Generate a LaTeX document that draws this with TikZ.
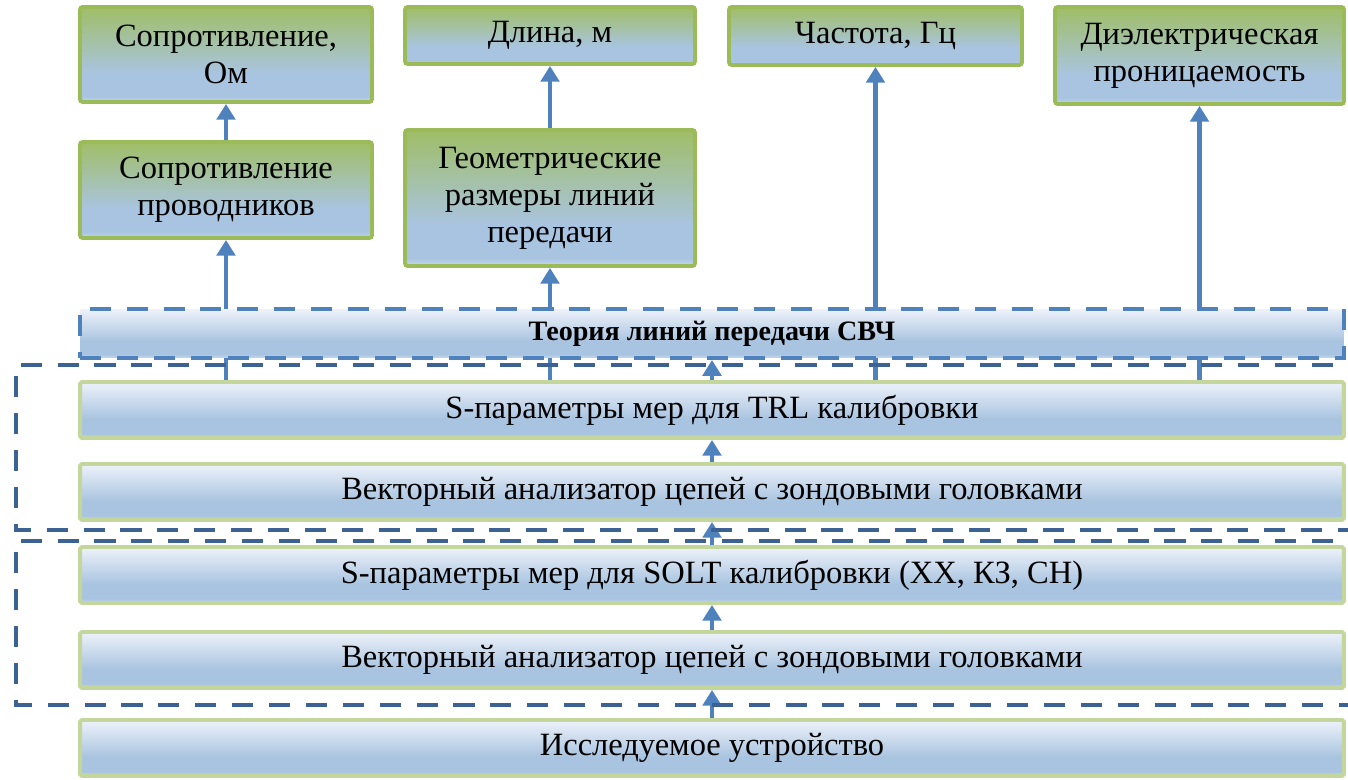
\documentclass[tikz,border=0pt]{standalone}
\usepackage{fontspec}
\setmainfont{Liberation Serif}
\usetikzlibrary{arrows.meta,positioning}

\definecolor{boxgreen}{HTML}{9BBB59}
\definecolor{boxgreenfill}{HTML}{A0BE66}
\definecolor{boxblue}{HTML}{A9C4E0}
\definecolor{boxpale}{HTML}{EEF2FA}
\definecolor{boxlight}{HTML}{C3D69B}
\definecolor{edgeblue}{HTML}{C4D7EE}
\definecolor{arrowblue}{HTML}{4F81BD}
\definecolor{groupblue}{HTML}{3C6294}

\pgfdeclareverticalshading{greenblue}{100bp}{color(0bp)=(edgeblue); color(25bp)=(edgeblue); color(28bp)=(boxblue); color(40bp)=(boxblue); color(75bp)=(boxgreenfill); color(100bp)=(boxgreenfill)}
\pgfdeclareverticalshading{paleblue}{100bp}{color(0bp)=(edgeblue); color(25bp)=(edgeblue); color(29bp)=(boxblue); color(42bp)=(boxblue); color(75bp)=(boxpale); color(100bp)=(boxpale)}

\tikzset{
  param/.style={draw=boxgreen, line width=2.2pt, shading=greenblue, rounded corners=1.5pt,
    align=center, inner sep=1pt, font=\fontsize{18.5}{21}\selectfont},
  stage/.style={draw=boxlight, line width=2.2pt, shading=paleblue, rounded corners=1pt,
    minimum width=25.28cm, minimum height=1.12cm, inner sep=0pt, font=\fontsize{18.5}{21}\selectfont},
  theory/.style={draw=arrowblue, line width=2.3pt, dash pattern=on 12pt off 9pt, shading=paleblue,
    minimum width=25.28cm, minimum height=0.98cm, inner sep=0pt, font=\bfseries\fontsize{16}{19}\selectfont},
  up/.style={draw=arrowblue, line width=2.6pt, -{Triangle[width=10.5pt,length=9pt]}},
  group/.style={draw=groupblue, line width=2.3pt, dash pattern=on 12pt off 9pt},
}

\begin{document}
\begin{tikzpicture}[x=0.02cm, y=-0.02cm]
  \useasboundingbox (0,0) rectangle (1348,780);

  % measured quantities
  \node[param, minimum width=5.84cm, minimum height=1.9cm] (res-om) at (226,54.5) {Сопротивление,\\Ом}; %
  \node[param, minimum width=5.8cm, minimum height=1.14cm] (len) at (550,35.5) {Длина, м}; %
  \node[param, minimum width=5.86cm, minimum height=1.16cm] (freq) at (875.5,36) {Частота, Гц}; %
  \node[param, minimum width=5.78cm, minimum height=1.94cm] (eps) at (1199.5,55.5) {Диэлектрическая\\проницаемость}; %

  \node[param, minimum width=5.84cm, minimum height=1.92cm] (res-cond) at (226,190) {Сопротивление\\проводников}; %
  \node[param, minimum width=5.8cm, minimum height=2.72cm] (geom) at (550,198) {Геометрические\\размеры линий\\передачи}; %

  % measurement chain
  \node[stage] (s-trl) at (712,410) {S-параметры мер для TRL калибровки};
  \node[stage] (vna-trl) at (712,492) {Векторный анализатор цепей с зондовыми головками};
  \node[stage] (s-solt) at (712,575) {S-параметры мер для SOLT калибровки (ХХ, КЗ, СН)};
  \node[stage] (vna-solt) at (712,660) {Векторный анализатор цепей с зондовыми головками};
  \node[stage] (dut) at (712,748) {Исследуемое устройство};

  \draw[up] (s-trl.north -| res-cond.south) -- (res-cond.south);
  \draw[up] (s-trl.north -| geom.south) -- (geom.south);
  \draw[up] (s-trl.north -| freq.south) -- (freq.south);
  \draw[up] (s-trl.north -| eps.south) -- (eps.south);
  \draw[up] (res-cond) -- (res-om);
  \draw[up] (geom) -- (len);

  \node[theory] (theory) at (712,333.5) {Теория линий передачи СВЧ};

  \draw[up] (s-trl) -- (theory);
  \draw[up] (vna-trl) -- (s-trl);
  \draw[up] (s-solt) -- (vna-trl);
  \draw[up] (vna-solt) -- (s-solt);
  \draw[up] (dut) -- (vna-solt);

  % calibration groups
  \draw[group] (1370,365) -| (16,530) -- (1370,530);
  \draw[group] (1370,541) -| (16,705) -- (1370,705);

\end{tikzpicture}
\end{document}
